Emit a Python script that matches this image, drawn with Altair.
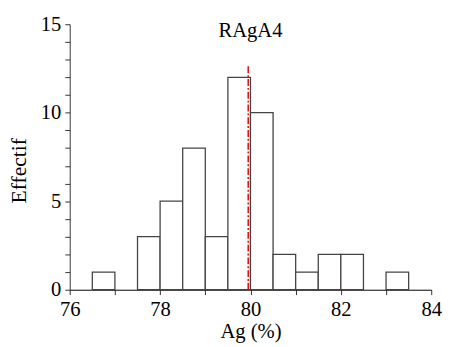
import altair as alt
import pandas as pd

bin_start = [76.5, 77.0, 77.5, 78.0, 78.5, 79.0, 79.5, 80.0, 80.5, 81.0, 81.5, 82.0, 82.5, 83.0]
bin_end = [77.0, 77.5, 78.0, 78.5, 79.0, 79.5, 80.0, 80.5, 81.0, 81.5, 82.0, 82.5, 83.0, 83.5]
counts = [1, 0, 3, 5, 8, 3, 12, 10, 2, 1, 2, 2, 0, 1]
mean_value = [79.95]
mean_top = [12.7]
title_text = ["RAgA4"]
title_pos = [80.0]
title_level = [14.6]
x_ticks = [76, 77, 78, 79, 80, 81, 82, 83, 84]
y_ticks = [0, 1, 2, 3, 4, 5, 6, 7, 8, 9, 10, 11, 12, 13, 14, 15]

df = pd.DataFrame({"start": bin_start, "end": bin_end, "n": counts})
df = df[df["n"] > 0]
line_df = pd.DataFrame({"lx": mean_value, "ly0": [0], "ly1": mean_top})
title_df = pd.DataFrame({"tx": title_pos, "ty": title_level, "label": title_text})

font = "Liberation Serif"
xscale = alt.Scale(domain=[76, 84], nice=False, zero=False)
yscale = alt.Scale(domain=[0, 15], nice=False)

x_axis = alt.Axis(values=x_ticks,
                  labelExpr="datum.value % 2 == 0 ? datum.label : ''",
                  labelOverlap=False, ticks=True, grid=False,
                  domainColor="black", tickColor="#333333",
                  tickSize=5, tickWidth=1, labelPadding=4, labelFontSize=21,
                  titleFontSize=21, titleFontWeight="normal",
                  titlePadding=2, labelFont=font, titleFont=font,
                  labelColor="black", titleColor="black", labelFlush=False)
y_axis = alt.Axis(values=y_ticks,
                  labelExpr="datum.value % 5 == 0 ? datum.label : ''",
                  labelOverlap=False, ticks=True, grid=False,
                  domainColor="#333333", tickColor="#333333",
                  tickSize=5, tickWidth=1, labelPadding=4, labelFontSize=21,
                  titleFontSize=22, titleFontWeight="normal",
                  titlePadding=10, titleY=149, labelFont=font, titleFont=font,
                  labelColor="black", titleColor="black", labelFlush=False)


def X(field):
    return alt.X(field, scale=xscale, title="Ag (%)", axis=x_axis)


def Y(field):
    return alt.Y(field, scale=yscale, title="Effectif", axis=y_axis)


bars = alt.Chart(df).mark_bar(fill="white", stroke="#444444", strokeWidth=1.3).encode(
    x=X("start:Q"), x2="end:Q", y=Y("n:Q"), y2=alt.Y2(datum=0),
)

vline = alt.Chart(line_df).mark_rule(color="#e8141c", strokeWidth=1.6, strokeDash=[7, 2, 2, 2]).encode(
    x=X("lx:Q"), y=Y("ly0:Q"), y2="ly1:Q",
)

title = alt.Chart(title_df).mark_text(font=font, fontSize=21, color="black", baseline="middle").encode(
    x=X("tx:Q"), y=Y("ty:Q"), text="label:N",
)

chart = alt.layer(bars, vline, title).properties(
    width=369, height=271,
    autosize=alt.AutoSizeParams(type="none"),
    padding={"left": 63, "top": 13, "right": 12, "bottom": 60},
).configure(background="white").configure_view(stroke=None)

chart.save("out.html", embed_options={"renderer": "svg", "actions": False})
